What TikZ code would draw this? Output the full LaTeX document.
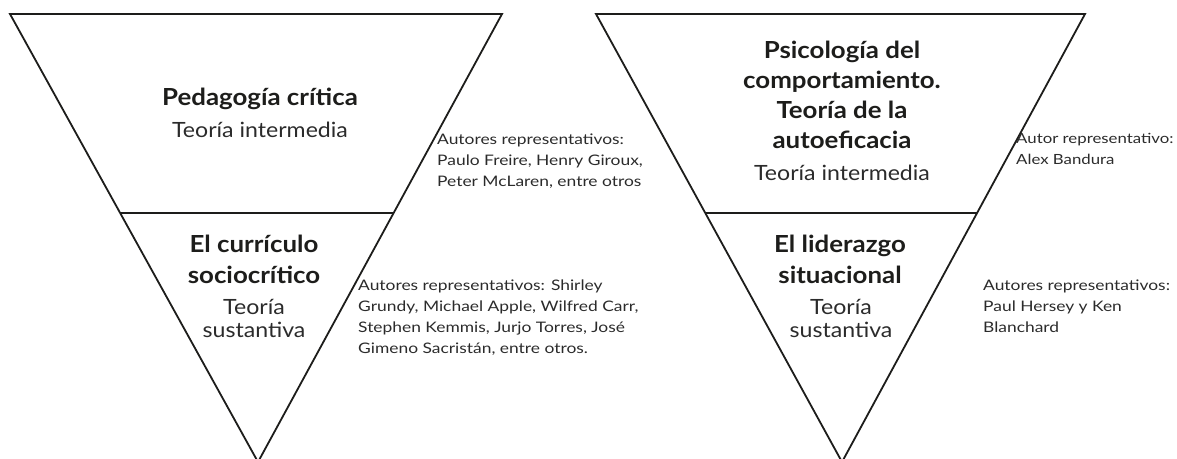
\documentclass[tikz,border=0pt]{standalone}
\usepackage{fontspec}
\setmainfont{Lato}[FakeStretch=1.1]
\newfontfamily\authorfont{Lato}[FakeStretch=1.2]
\usetikzlibrary{calc}
\definecolor{ink}{HTML}{1D1D1B}
\definecolor{txt}{HTML}{2B2B2B}
\begin{document}
\begin{tikzpicture}[x=1pt,y=-1pt,
  tri/.style={draw=ink,line width=1.8pt,line join=miter},
  title/.style={font=\bfseries\fontsize{23.5}{31}\selectfont,text=ink,align=center,inner sep=0pt,anchor=base},
  sub/.style={font=\fontsize{21}{22.5}\selectfont,text=txt,align=center,inner sep=0pt,anchor=base},
  authors/.style={font=\authorfont\fontsize{14.5}{20.7}\selectfont,text=txt,align=left,inner sep=0pt,anchor=base west}]
\useasboundingbox (0,0) rectangle (1177,458);
% left triangle
\coordinate (Ltl) at (10,14);
\coordinate (Ltr) at (502,14);
\coordinate (Lap) at (258,462);
\coordinate (Ldl) at ($(Ltl)!0.445!(Lap)$);
\coordinate (Ldr) at ($(Ltr)!0.445!(Lap)$);
\draw[tri] (Ltl) -- (Ltr) -- (Lap) -- cycle;
\draw[tri] (Ldl) -- (Ldr);
% right triangle
\coordinate (Rtl) at (596,14);
\coordinate (Rtr) at (1085,14);
\coordinate (Rap) at (842,462);
\coordinate (Rdl) at ($(Rtl)!0.445!(Rap)$);
\coordinate (Rdr) at ($(Rtr)!0.445!(Rap)$);
\draw[tri] (Rtl) -- (Rtr) -- (Rap) -- cycle;
\draw[tri] (Rdl) -- (Rdr);
% left texts (anchor = baseline of last line)
\node[title] (lt1) at (260,105) {Pedagogía crítica};
\node[sub] (ls1) at (260,137) {Teoría intermedia};
\node[title] (lt2) at (254,283) {El currículo\\sociocrítico};
\node[sub] (ls2) at (254,337) {Teoría\\sustantiva};
\node[authors] (la1) at (437,186) {Autores representativos:\\Paulo Freire, Henry Giroux,\\Peter McLaren, entre otros};
\node[authors] (la2) at (358,353) {Autores representativos: Shirley\\Grundy, Michael Apple, Wilfred Carr,\\Stephen Kemmis, Jurjo Torres, José\\Gimeno Sacristán, entre otros.};
% right texts
\node[title,font=\bfseries\fontsize{23.5}{30}\selectfont] (rt1) at (842,148) {Psicología del\\comportamiento.\\Teoría de la\\autoeficacia};
\node[sub] (rs1) at (842,180) {Teoría intermedia};
\node[title] (rt2) at (840,283) {El liderazgo\\situacional};
\node[sub] (rs2) at (841,337) {Teoría\\sustantiva};
\node[authors,font=\authorfont\fontsize{14}{20.7}\selectfont] (ra1) at (1016,164) {Autor representativo:\\Alex Bandura};
\node[authors] (ra2) at (983,332) {Autores representativos:\\Paul Hersey y Ken\\Blanchard};
\end{tikzpicture}
\end{document}
